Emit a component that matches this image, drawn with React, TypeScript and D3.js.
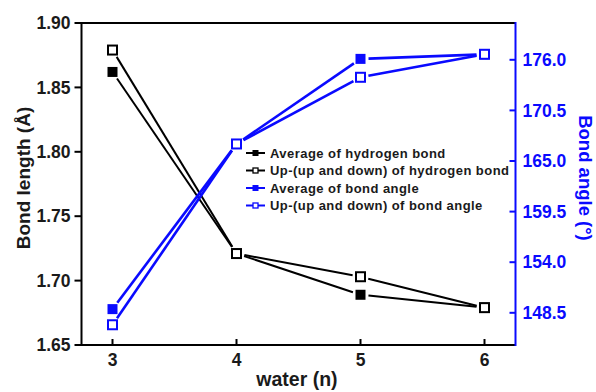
import React from "react";
import * as d3 from "d3";

const waters = [3, 4, 5, 6];
const avgHBond = [1.862, 1.721, 1.689, 1.679];
const upHBond = [1.879, 1.721, 1.703, 1.679];
const avgAngle = [148.9, 166.85, 176.1, 176.6];
const upAngle = [147.2, 166.85, 174.1, 176.6];
const leftTicks = [1.65, 1.7, 1.75, 1.8, 1.85, 1.9];
const rightTicks = [148.5, 154.0, 159.5, 165.0, 170.5, 176.0];
const legendLabels = [
  "Average of hydrogen bond",
  "Up-(up and down) of hydrogen bond",
  "Average of bond angle",
  "Up-(up and down) of bond angle",
];

const W = 596, H = 392;
const L = 81.5, R = 515.5, T = 23, B = 345;
const BLUE = "#0a0aff";
const FONT = "'Liberation Sans', Arial, sans-serif";

export default function App() {
  const x = d3.scaleLinear().domain([2.75, 6.25]).range([L, R]);
  const yL = d3.scaleLinear().domain([1.65, 1.9]).range([B, T]);
  const yR = d3.scaleLinear().domain([145, 180]).range([B, T]);

  const seg = (xs: number[], ys: number[], ysc: any, gap: number) => {
    const pts = xs.map((v, i) => [x(v), ysc(ys[i])]);
    const out: string[] = [];
    for (let i = 0; i < pts.length - 1; i++) {
      const [x1, y1] = pts[i];
      const [x2, y2] = pts[i + 1];
      const dx = x2 - x1, dy = y2 - y1;
      const len = Math.hypot(dx, dy);
      if (len < 2 * gap) continue;
      const ux = dx / len, uy = dy / len;
      out.push(
        d3.line()([
          [x1 + ux * gap, y1 + uy * gap],
          [x2 - ux * gap, y2 - uy * gap],
        ]) as string
      );
    }
    return out;
  };

  const series = [
    { ys: avgHBond, sc: yL, color: "#000", filled: true },
    { ys: upHBond, sc: yL, color: "#000", filled: false },
    { ys: avgAngle, sc: yR, color: BLUE, filled: true },
    { ys: upAngle, sc: yR, color: BLUE, filled: false },
  ];

  return (
    <svg width={W} height={H} style={{ position: "absolute", left: 0, top: 0, background: "#fff" }}>
      <rect x={0} y={0} width={W} height={H} fill="#fff" />
      {series.map((s, si) =>
        seg(waters, s.ys, s.sc, 8).map((d, i) => (
          <path key={`l${si}-${i}`} d={d} stroke={s.color} strokeWidth={s.color === "#000" ? 2 : 2.6} fill="none" />
        ))
      )}
      {series.map((s, si) =>
        waters.map((w, i) => {
          const cx = x(w), cy = s.sc(s.ys[i]);
          return s.filled ? (
            <rect key={`m${si}-${i}`} x={cx - 5} y={cy - 5} width={10} height={10} fill={s.color} />
          ) : (
            <rect key={`m${si}-${i}`} x={cx - 4.5} y={cy - 4.5} width={9} height={9} fill="#fff" stroke={s.color} strokeWidth={2} />
          );
        })
      )}
      <line x1={L} x2={R} y1={T} y2={T} stroke="#000" strokeWidth={2} />
      <line x1={L} x2={R} y1={B} y2={B} stroke="#000" strokeWidth={2} />
      <line x1={L} x2={L} y1={T - 1} y2={B + 1} stroke="#000" strokeWidth={2} />
      <line x1={R} x2={R} y1={T - 1} y2={B + 1} stroke={BLUE} strokeWidth={2} />
      {leftTicks.map((t) => (
        <g key={`lt${t}`}>
          <line x1={L - 7} x2={L} y1={yL(t)} y2={yL(t)} stroke="#000" strokeWidth={2} />
          <text x={L - 11} y={yL(t)} dy="0.35em" textAnchor="end" fontFamily={FONT} fontWeight="bold" fontSize={17.5} fill="#1a1a1a">
            {t.toFixed(2)}
          </text>
        </g>
      ))}
      {rightTicks.map((t) => (
        <g key={`rt${t}`}>
          <line x1={R - 6} x2={R} y1={yR(t)} y2={yR(t)} stroke={BLUE} strokeWidth={2} />
          <text x={R + 7} y={yR(t)} dy="0.35em" textAnchor="start" fontFamily={FONT} fontWeight="bold" fontSize={17.5} fill={BLUE}>
            {t.toFixed(1)}
          </text>
        </g>
      ))}
      {waters.map((w) => (
        <g key={`bt${w}`}>
          <line x1={x(w)} x2={x(w)} y1={B} y2={B - 6} stroke="#000" strokeWidth={2} />
          <text x={x(w)} y={B + 21} textAnchor="middle" fontFamily={FONT} fontWeight="bold" fontSize={17.5} fill="#1a1a1a">
            {w}
          </text>
        </g>
      ))}
      <text transform={`translate(30,178) rotate(-90)`} textAnchor="middle" fontFamily={FONT} fontWeight="bold" fontSize={19} fill="#1a1a1a">
        Bond length (Å)
      </text>
      <text transform={`translate(579,178) rotate(90)`} textAnchor="middle" fontFamily={FONT} fontWeight="bold" fontSize={18.5} fill={BLUE}>
        Bond angle (°)
      </text>
      <text x={297} y={386} textAnchor="middle" fontFamily={FONT} fontWeight="bold" fontSize={19.5} fill="#1a1a1a">
        water (n)
      </text>
      {series.map((s, i) => {
        const ly = 153 + i * 17.5;
        return (
          <g key={`lg${i}`}>
            <line x1={246} x2={265} y1={ly} y2={ly} stroke={s.color} strokeWidth={2} />
            {s.filled ? (
              <rect x={252.5} y={ly - 3} width={6} height={6} fill={s.color} />
            ) : (
              <rect x={253} y={ly - 2.5} width={5} height={5} fill="#fff" stroke={s.color} strokeWidth={1.3} />
            )}
            <text x={270} y={ly} dy="0.35em" fontFamily={FONT} fontWeight="bold" fontSize={13} letterSpacing={0.45} fill="#1a1a1a">
              {legendLabels[i]}
            </text>
          </g>
        );
      })}
    </svg>
  );
}
